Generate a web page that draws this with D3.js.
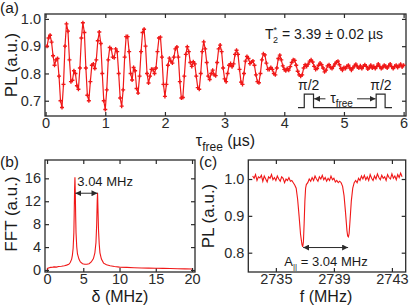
<!DOCTYPE html>
<html>
<head>
<meta charset="utf-8">
<script src="https://cdn.jsdelivr.net/npm/d3@7"></script>
<style>
  body { margin: 0; background: #fff; }
  svg text { font-family: "Liberation Sans", Arial, sans-serif; fill: #1a1a1a; }
</style>
</head>
<body>
<svg id="fig" width="415" height="308"></svg>
<script>
// ---- panel (a): Ramsey signal, sampled every 0.025 us
const tStepA = 0.025
const plA = [
  0.900, 0.930, 0.940, 0.915, 0.865, 0.830, 0.850, 0.855, 0.790, 0.700,
  0.675, 0.760, 0.900, 0.982, 0.955, 0.850, 0.770, 0.775, 0.810, 0.800,
  0.755, 0.742, 0.820, 0.930, 0.986, 0.950, 0.820, 0.720, 0.700, 0.770,
  0.830, 0.835, 0.818, 0.850, 0.920, 0.952, 0.910, 0.800, 0.700, 0.668,
  0.740, 0.850, 0.895, 0.890, 0.860, 0.858, 0.890, 0.880, 0.800, 0.710,
  0.680, 0.740, 0.860, 0.935, 0.935, 0.880, 0.800, 0.776, 0.822, 0.810,
  0.745, 0.728, 0.790, 0.880, 0.950, 0.962, 0.900, 0.800, 0.765, 0.790,
  0.815, 0.815, 0.800, 0.820, 0.880, 0.930, 0.933, 0.860, 0.760, 0.716,
  0.760, 0.830, 0.856, 0.845, 0.838, 0.860, 0.890, 0.897, 0.860, 0.770,
  0.710, 0.712, 0.790, 0.870, 0.898, 0.880, 0.840, 0.826, 0.843, 0.835,
  0.790, 0.748, 0.742, 0.800, 0.880, 0.916, 0.890, 0.840, 0.790, 0.778,
  0.800, 0.812, 0.795, 0.792, 0.840, 0.890, 0.904, 0.880, 0.820, 0.780,
  0.770, 0.800, 0.830, 0.836, 0.825, 0.835, 0.870, 0.885, 0.870, 0.815,
  0.768, 0.760, 0.800, 0.845, 0.862, 0.855, 0.836, 0.842, 0.846, 0.830,
  0.795, 0.770, 0.766, 0.800, 0.850, 0.872, 0.868, 0.838, 0.815, 0.815,
  0.822, 0.815, 0.800, 0.795, 0.820, 0.855, 0.867, 0.850, 0.828, 0.815,
  0.810, 0.818, 0.812, 0.825, 0.840, 0.850, 0.848, 0.830, 0.808, 0.795,
  0.790, 0.795, 0.820, 0.832, 0.826, 0.834, 0.845, 0.850, 0.842, 0.826,
  0.815, 0.818, 0.830, 0.838, 0.832, 0.820, 0.806, 0.812, 0.828, 0.832,
  0.822, 0.818, 0.826, 0.835, 0.842, 0.845, 0.832, 0.818, 0.812, 0.822,
  0.818, 0.826, 0.830, 0.820, 0.812, 0.820, 0.828, 0.834, 0.824, 0.820,
  0.828, 0.818, 0.826, 0.832, 0.826, 0.816, 0.822, 0.830, 0.820, 0.826,
  0.818, 0.825, 0.835, 0.826, 0.818, 0.822, 0.830, 0.826, 0.820, 0.828,
  0.835, 0.825, 0.818, 0.826, 0.830, 0.822, 0.828, 0.834, 0.824, 0.830
]
const tA = plA.map((_, i) => (i + 1) * tStepA)
const xTicksA = [0, 1, 2, 3, 4, 5, 6]
const yTicksA = [0.7, 0.8, 0.9, 1.0]
// pulse sketch (drawn in data units of panel a)
const pulseT = [4.23, 4.335, 4.335, 4.49, 4.49, 5.54, 5.54, 5.69, 5.69, 5.805]
const pulseV = [0.675, 0.675, 0.724, 0.724, 0.675, 0.675, 0.724, 0.724, 0.675, 0.675]

// ---- panel (b): FFT
const deltaB = [0.0, 0.1, 0.3, 0.5, 0.8, 1.0, 1.3, 1.6, 2.0, 2.4, 2.7, 3.0, 3.2, 3.4, 3.5,
  3.6, 3.7, 3.75, 3.8, 3.85, 3.9, 3.95, 4.0, 4.1, 4.2, 4.4, 4.6, 4.9, 5.2, 5.5, 5.8,
  6.1, 6.4, 6.6, 6.75, 6.85, 6.92, 6.97, 7.02, 7.1, 7.2, 7.3, 7.5, 7.8, 8.2, 8.7, 9.3,
  10, 11, 12, 13, 14, 15, 16, 17, 18, 19, 20]
const fftB = [0.1, 0.3, 0.4, 0.45, 0.5, 0.55, 0.5, 0.6, 0.65, 0.75, 0.85, 1.0, 1.3, 1.9, 2.6,
  3.8, 6.5, 10, 14, 16.2, 13.5, 9.5, 6.5, 4.0, 2.8, 1.9, 1.4, 1.1, 1.0, 1.0, 1.1,
  1.4, 2.0, 3.0, 4.8, 8, 12, 13.5, 11, 7, 4.5, 3.0, 1.9, 1.2, 0.9, 0.75, 0.6,
  0.5, 0.45, 0.4, 0.35, 0.32, 0.3, 0.28, 0.25, 0.22, 0.2, 0.18]
const xTicksB = [0, 5, 10, 15, 20]
const yTicksB = [0, 4, 8, 12, 16]

// ---- panel (c): ODMR
const fC = [2733.4, 2733.5, 2733.6, 2733.7, 2733.8, 2733.9, 2734.0, 2734.1, 2734.2, 2734.3,
  2734.4, 2734.5, 2734.6, 2734.7, 2734.8, 2734.9, 2735.0, 2735.1, 2735.2, 2735.3,
  2735.4, 2735.5, 2735.6, 2735.7, 2735.8, 2735.9, 2736.0, 2736.1, 2736.2, 2736.3,
  2736.4, 2736.5, 2736.6, 2736.7, 2736.8, 2736.85, 2736.9, 2736.95, 2737.0, 2737.05,
  2737.1, 2737.2, 2737.3, 2737.4, 2737.5, 2737.6, 2737.7, 2737.8, 2737.9, 2738.0,
  2738.1, 2738.2, 2738.3, 2738.4, 2738.5, 2738.6, 2738.7, 2738.8, 2738.9, 2739.0,
  2739.1, 2739.2, 2739.3, 2739.4, 2739.5, 2739.6, 2739.7, 2739.8, 2739.9, 2739.95,
  2740.0, 2740.05, 2740.1, 2740.2, 2740.3, 2740.4, 2740.5, 2740.6, 2740.7, 2740.8,
  2740.9, 2741.0, 2741.1, 2741.2, 2741.3, 2741.4, 2741.5, 2741.6, 2741.7, 2741.8,
  2741.9, 2742.0, 2742.1, 2742.2, 2742.3, 2742.4, 2742.5, 2742.6, 2742.7, 2742.8,
  2742.9, 2743.0, 2743.1, 2743.2, 2743.3, 2743.4, 2743.5, 2743.6, 2743.7]
const plC = [1.008, 1.002, 1.012, 0.996, 1.006, 1.003, 1.010, 0.994, 1.008, 1.000,
  0.992, 1.006, 1.002, 1.012, 0.998, 1.004, 0.996, 1.008, 1.000, 0.994,
  1.006, 1.002, 0.990, 1.000, 0.996, 1.004, 0.994, 0.996, 0.990, 0.984,
  0.975, 0.945, 0.900, 0.850, 0.822, 0.816, 0.830, 0.880, 0.940, 0.975,
  0.985, 0.990, 1.000, 0.994, 1.004, 0.996, 1.008, 1.000, 0.994, 1.006,
  1.000, 1.010, 0.998, 1.004, 0.994, 1.002, 0.996, 1.008, 0.998, 1.002,
  0.992, 0.996, 0.990, 0.994, 0.990, 0.980, 0.955, 0.910, 0.860, 0.845,
  0.843, 0.852, 0.880, 0.940, 0.975, 0.990, 0.996, 0.990, 1.002, 0.996,
  1.008, 1.000, 1.010, 0.998, 1.006, 0.996, 1.012, 1.002, 0.996, 1.008,
  1.000, 1.014, 1.004, 0.998, 1.010, 1.002, 1.006, 0.996, 1.012, 1.004,
  1.000, 1.014, 1.002, 1.008, 0.998, 1.012, 1.004, 1.016, 1.006]
const xTicksC = [2735, 2739, 2743]
const yTicksC = [0.8, 0.9, 1.0]

const RED = '#f01818'
const INK = '#2a2a2a'

const svg = d3.select('#fig')

// arrow heads
const defs = svg.append('defs')
defs.append('marker')
    .attr('id', 'head')
    .attr('viewBox', '0 0 8 8')
    .attr('refX', 8)
    .attr('refY', 4)
    .attr('markerWidth', 6)
    .attr('markerHeight', 6)
    .attr('markerUnits', 'userSpaceOnUse')
    .attr('orient', 'auto-start-reverse')
  .append('path')
    .attr('d', 'M0,0 L8,4 L0,8 z')
    .style('fill', INK)

// frame + inward ticks on all four sides
function panel(o) {
  const x = d3.scaleLinear().domain(o.xDom).range([o.l, o.r])
  const y = d3.scaleLinear().domain(o.yDom).range([o.b, o.t])
  const g = svg.append('g')

  const axes = [
    [d3.axisBottom(x).tickValues(o.xTicks).tickFormat(o.xFmt).tickPadding(2), `translate(0,${o.b})`],
    [d3.axisTop(x).tickValues(o.xTicks).tickFormat(''), `translate(0,${o.t})`],
    [d3.axisLeft(y).tickValues(o.yTicks).tickFormat(o.yFmt).tickPadding(4), `translate(${o.l},0)`],
    [d3.axisRight(y).tickValues(o.yTicks).tickFormat(''), `translate(${o.r},0)`]
  ]
  axes.forEach(([ax, tr]) => {
    g.append('g')
        .attr('transform', tr)
        .call(ax.tickSize(-4))
        .call(s => s.select('.domain').remove())
        .call(s => s.selectAll('line').style('stroke', INK).style('stroke-width', 1.2))
        .call(s => s.selectAll('text').style('font-size', '14.5px').style('fill', INK)
          .style('font-family', '"Liberation Sans", Arial, sans-serif'))
  })

  g.append('rect')
    .attr('x', o.l)
    .attr('y', o.t)
    .attr('width', o.r - o.l)
    .attr('height', o.b - o.t)
    .style('fill', 'none')
    .style('stroke', INK)
    .style('stroke-width', 1.3)

  return { g, x, y }
}

// ================= (a)
const A = panel({
  l: 45, r: 406, t: 14, b: 116,
  xDom: [-0.01, 6.04], yDom: [0.644, 1.018],
  xTicks: xTicksA, yTicks: yTicksA,
  xFmt: d3.format('d'), yFmt: d3.format('.1f')
})
const ptsA = tA.map((t, i) => [t, plA[i]])
A.g.append('path')
  .datum(ptsA)
  .attr('d', d3.line().x(d => A.x(d[0])).y(d => A.y(d[1])))
  .style('fill', 'none')
  .style('stroke', RED)
  .style('stroke-width', 1.2)
A.g.append('g')
  .selectAll('path')
  .data(ptsA)
  .enter()
  .append('path')
    .attr('transform', d => `translate(${A.x(d[0])},${A.y(d[1])})`)
    .attr('d', d3.symbol(d3.symbolCross).size(9))
    .style('fill', RED)

// pulse sketch
A.g.append('path')
  .datum(pulseT.map((t, i) => [t, pulseV[i]]))
  .attr('d', d3.line().x(d => A.x(d[0])).y(d => A.y(d[1])))
  .style('fill', 'none')
  .style('stroke', INK)
  .style('stroke-width', 1.2)
const arrowY = A.y(0.707)
A.g.append('line')
  .attr('x1', A.x(4.69)).attr('x2', A.x(4.50))
  .attr('y1', arrowY).attr('y2', arrowY)
  .attr('marker-end', 'url(#head)')
  .style('stroke', INK)
A.g.append('line')
  .attr('x1', A.x(5.22)).attr('x2', A.x(5.53))
  .attr('y1', arrowY).attr('y2', arrowY)
  .attr('marker-end', 'url(#head)')
  .style('stroke', INK)
const tauTxt = A.g.append('text')
  .attr('x', A.x(4.96))
  .attr('y', arrowY + 4)
  .attr('text-anchor', 'middle')
  .style('font-size', '14px')
tauTxt.append('tspan').text('τ')
tauTxt.append('tspan').attr('dy', 4).style('font-size', '10px').text('free')
A.g.selectAll('.pi')
  .data([4.41, 5.62])
  .enter()
  .append('text')
    .attr('x', d => A.x(d))
    .attr('y', 90)
    .attr('text-anchor', 'middle')
    .style('font-size', '14px')
    .text('π/2')

const t2 = A.g.append('text')
  .attr('x', 265)
  .attr('y', 38.5)
  .style('font-size', '14px')
t2.append('tspan').text('T')
t2.append('tspan').attr('dy', -6).style('font-size', '9px').text('*')
t2.append('tspan').attr('dx', -4).attr('dy', 10).style('font-size', '9px').text('2')
t2.append('tspan').attr('dy', -4).text(' = 3.39 ± 0.02 µs')

const xtA = svg.append('text')
  .attr('x', 225.5)
  .attr('y', 146)
  .attr('text-anchor', 'middle')
  .style('font-size', '16px')
xtA.append('tspan').text('τ')
xtA.append('tspan').attr('dy', 5).style('font-size', '12px').text('free')
xtA.append('tspan').attr('dy', -5).text(' (µs)')
svg.append('text')
  .attr('transform', 'translate(17,65) rotate(-90)')
  .attr('text-anchor', 'middle')
  .style('font-size', '17px')
  .text('PL (a.u.)')

// ================= (b)
const B = panel({
  l: 45, r: 195, t: 160, b: 272,
  xDom: [-0.28, 20.41], yDom: [-0.35, 19.2],
  xTicks: xTicksB, yTicks: yTicksB,
  xFmt: d3.format('d'), yFmt: d3.format('d')
})
B.g.append('path')
  .datum(deltaB.map((d, i) => [d, fftB[i]]))
  .attr('d', d3.line().x(d => B.x(d[0])).y(d => B.y(d[1])))
  .style('fill', 'none')
  .style('stroke', RED)
  .style('stroke-width', 1.1)
B.g.append('line')
  .attr('x1', B.x(3.9)).attr('x2', B.x(6.96))
  .attr('y1', B.y(13.4)).attr('y2', B.y(13.4))
  .attr('marker-start', 'url(#head)')
  .attr('marker-end', 'url(#head)')
  .style('stroke', INK)
B.g.append('text')
  .attr('x', B.x(3.9) + 2)
  .attr('y', B.y(13.4) - 7)
  .style('font-size', '13px')
  .text('3.04 MHz')
svg.append('text')
  .attr('x', 120)
  .attr('y', 302)
  .attr('text-anchor', 'middle')
  .style('font-size', '16px')
  .text('δ (MHz)')
svg.append('text')
  .attr('transform', 'translate(17,214) rotate(-90)')
  .attr('text-anchor', 'middle')
  .style('font-size', '17px')
  .text('FFT (a.u.)')

// ================= (c)
const C = panel({
  l: 248.3, r: 405.7, t: 160, b: 272,
  xDom: [2733.1, 2743.95], yDom: [0.7476, 1.0516],
  xTicks: xTicksC, yTicks: yTicksC,
  xFmt: d3.format('d'), yFmt: d3.format('.1f')
})
C.g.append('path')
  .datum(fC.map((f, i) => [f, plC[i]]))
  .attr('d', d3.line().x(d => C.x(d[0])).y(d => C.y(d[1])))
  .style('fill', 'none')
  .style('stroke', RED)
  .style('stroke-width', 1.1)
C.g.append('line')
  .attr('x1', C.x(2736.88)).attr('x2', C.x(2739.98))
  .attr('y1', C.y(0.814)).attr('y2', C.y(0.814))
  .attr('marker-start', 'url(#head)')
  .attr('marker-end', 'url(#head)')
  .style('stroke', INK)
const aTxt = C.g.append('text')
  .attr('x', 326)
  .attr('y', C.y(0.814) + 18)
  .attr('text-anchor', 'middle')
  .style('font-size', '13px')
aTxt.append('tspan').text('A')
aTxt.append('tspan').attr('dy', 3).style('font-size', '8px').text('||')
aTxt.append('tspan').attr('dy', -3).text(' = 3.04 MHz')
svg.append('text')
  .attr('x', 326)
  .attr('y', 302)
  .attr('text-anchor', 'middle')
  .style('font-size', '16px')
  .text('f (MHz)')
svg.append('text')
  .attr('transform', 'translate(214,216) rotate(-90)')
  .attr('text-anchor', 'middle')
  .style('font-size', '17px')
  .text('PL (a.u.)')

// panel letters
svg.selectAll('.lbl')
  .data([['(a)', 0, 13], ['(b)', 0, 167], ['(c)', 199, 167]])
  .enter()
  .append('text')
    .attr('x', d => d[1])
    .attr('y', d => d[2])
    .style('font-size', '15.5px')
    .text(d => d[0])
</script>
</body>
</html>
